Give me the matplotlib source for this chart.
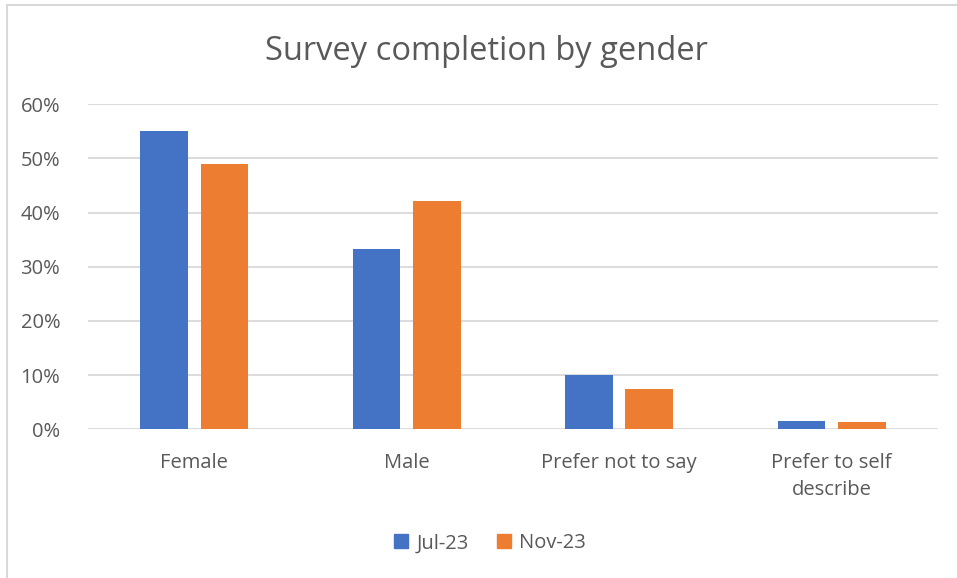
import matplotlib.pyplot as plt
from matplotlib.lines import Line2D
from matplotlib.patches import Patch
import numpy as np

categories = ['Female', 'Male', 'Prefer not to say', 'Prefer to self\ndescribe']
series_names = ['Jul-23', 'Nov-23']
jul_23 = [0.550, 0.332, 0.101, 0.015]
nov_23 = [0.490, 0.422, 0.074, 0.013]
yticks = [0, 0.1, 0.2, 0.3, 0.4, 0.5, 0.6]

blue = '#4472c4'
orange = '#ed7d31'
txt = '#595959'

plt.rcParams['font.family'] = ['Open Sans', 'DejaVu Sans']

fig = plt.figure(figsize=(9.57, 5.78), dpi=100)
ax = fig.add_axes([0.092, 0.2573, 0.888, 0.5623])

x = np.arange(len(categories))
w = 0.225
ax.bar(x - 0.142, jul_23, w, color=blue, zorder=3)
ax.bar(x + 0.142, nov_23, w, color=orange, zorder=3)

ax.set_xlim(-0.5, len(categories) - 0.5)
ax.set_ylim(0, 0.6)
ax.set_yticks(yticks)
ax.set_yticklabels(['%d%%' % round(v * 100) for v in yticks])
ax.set_xticks(x)
ax.set_xticklabels(categories, linespacing=1.45)
ax.tick_params(axis='both', length=0, labelsize=14.5, colors=txt)
ax.tick_params(axis='x', pad=17)
ax.tick_params(axis='y', pad=20)
ax.grid(axis='y', color='#d9d9d9', linewidth=1.3, zorder=0)
for s in ax.spines.values():
    s.set_visible(False)

fig.text(0.508, 0.911, 'Survey completion by gender', ha='center', va='center',
         fontsize=23.5, color=txt)

handles = [Patch(color=blue, label=series_names[0]), Patch(color=orange, label=series_names[1])]
fig.legend(handles=handles, loc='center', bbox_to_anchor=(0.512, 0.06), ncol=2,
           frameon=False, fontsize=14.5, labelcolor=txt, handlelength=0.7,
           handleheight=0.7, handletextpad=0.4, columnspacing=1.4)

# outer chart border (left and top edges visible)
fig.add_artist(Line2D([0.0068, 0.0068], [0, 0.991], color='#d9d9d9', linewidth=1.5))
fig.add_artist(Line2D([0.0068, 1], [0.991, 0.991], color='#d9d9d9', linewidth=1.5))

fig.savefig('out.png', dpi=100, facecolor='white')
